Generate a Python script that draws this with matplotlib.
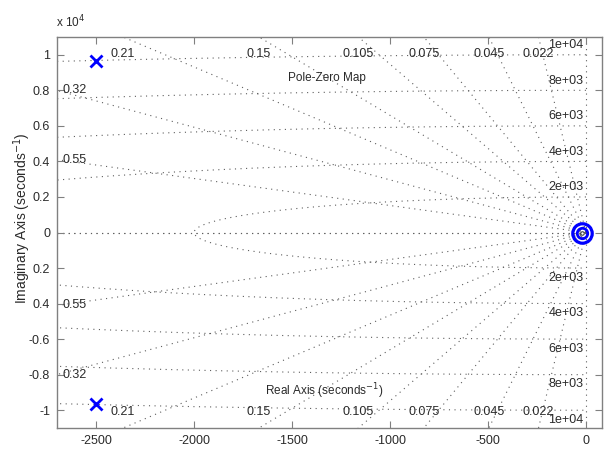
import numpy as np
import matplotlib
matplotlib.use("Agg")
import matplotlib.pyplot as plt

# ---- data ----
pole_re = [-2500, -2500]
pole_im = [9650, -9650]
zero_re = [-20]
zero_im = [0]
zetas = [0.022, 0.045, 0.075, 0.105, 0.15, 0.21, 0.32, 0.55]
zeta_labels = ['0.022', '0.045', '0.075', '0.105', '0.15', '0.21', '0.32', '0.55']
wns = [2000, 4000, 6000, 8000, 10000]
wn_labels = ['2e+03', '4e+03', '6e+03', '8e+03', '1e+04']
xticks = [-2500, -2000, -1500, -1000, -500, 0]
xticklabels = ['-2500', '-2000', '-1500', '-1000', '-500', '0']
yticks = [-10000, -8000, -6000, -4000, -2000, 0, 2000, 4000, 6000, 8000, 10000]
yticklabels = ['-1', '-0.8', '-0.6', '0.4', '0.2', '0', '0.2', '0.4', '0.6', '0.8', '1']
xlim = (-2700, 82)
ylim = (-11000, 11000)

plt.rcParams['font.family'] = ['Liberation Sans', 'DejaVu Sans']
txtc = '#2a2a2a'
gridc = '#5e5e5e'
ls_dot = (0, (1, 4))
fs = 9

fig = plt.figure(figsize=(6.10, 4.53), dpi=100)
ax = fig.add_axes([57/610, 1-428/453, (602-57)/610, (428-37)/453])
ax.set_xlim(*xlim)
ax.set_ylim(*ylim)

# damping lines
R = 20000
for z in zetas + [1.0, 0.0]:
    w = np.sqrt(1 - z**2)
    ax.plot([0, -z*R], [0, w*R], color=gridc, lw=0.8, ls=ls_dot, zorder=1)
    ax.plot([0, -z*R], [0, -w*R], color=gridc, lw=0.8, ls=ls_dot, zorder=1)

# natural frequency arcs
th = np.linspace(np.pi/2, 3*np.pi/2, 2000)
for wn in wns:
    ax.plot(wn*np.cos(th), wn*np.sin(th), color=gridc, lw=0.8, ls=ls_dot, zorder=1)

# damping labels
ytop = ylim[1]
for z, lab in zip(zetas, zeta_labels):
    slope = np.sqrt(1 - z**2) / z
    xt = -ytop / slope
    if xt > xlim[0]:
        ax.text(xt, 10060, lab, ha='center', va='center', fontsize=fs, color=txtc)
        ax.text(xt, -10100, lab, ha='center', va='center', fontsize=fs, color=txtc)
    else:
        yl = -xlim[0] * slope
        ax.text(xlim[0] + 30, yl, lab, ha='left', va='center', fontsize=fs, color=txtc)
        ax.text(xlim[0] + 30, -yl, lab, ha='left', va='center', fontsize=fs, color=txtc)

# wn labels
for wn, lab in zip(wns, wn_labels):
    ax.annotate(lab, (-12, wn), xytext=(0, 7), textcoords='offset points',
                ha='right', va='center', fontsize=fs, color=txtc)
    ax.annotate(lab, (-12, -wn), xytext=(0, -7), textcoords='offset points',
                ha='right', va='center', fontsize=fs, color=txtc)

# poles and zeros
ax.plot(pole_re, pole_im, ls='none', marker='x', ms=9, mew=2, color='#0000ff', zorder=3)
ax.plot(zero_re, zero_im, ls='none', marker='o', ms=14, mew=2.3, mfc='none', mec='#0000ff', zorder=3)
ax.plot(zero_re, zero_im, ls='none', marker='o', ms=7.5, mew=2.0, mfc='none', mec='#0000ff', zorder=3)
ax.plot(zero_re, zero_im, ls='none', marker='o', ms=2.5, mew=0.8, mfc='none', mec='#404040', zorder=3)

ax.set_xticks(xticks)
ax.set_xticklabels(xticklabels)
ax.set_yticks(yticks)
ax.set_yticklabels(yticklabels)
ax.tick_params(direction='in', length=5, width=0.8, colors='#808080', labelcolor=txtc,
               labelsize=fs, top=True, right=True, pad=5)
for s in ax.spines.values():
    s.set_color('#808080')
    s.set_linewidth(1.0)

ax.text(-1320, 8700, 'Pole-Zero Map', ha='center', va='center', fontsize=8.5, color=txtc)
ax.text(-1335, -8950, 'Real Axis (seconds$^{-1}$)', ha='center', va='center', fontsize=8.5, color=txtc)
fig.text(22/610, 1-218/453, 'Imaginary Axis (seconds$^{-1}$)', rotation=90,
         ha='center', va='center', fontsize=10, color=txtc)
fig.text(56/610, 1-22/453, 'x 10$^{4}$', ha='left', va='center', fontsize=8.5, color=txtc)

fig.savefig('out.png', dpi=100)
